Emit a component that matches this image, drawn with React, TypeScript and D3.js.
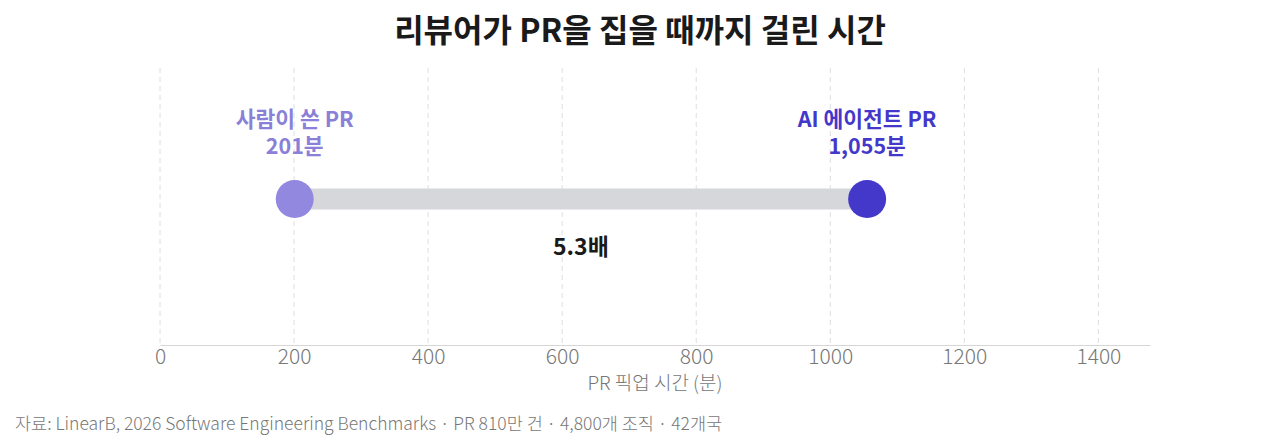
import { useEffect, useRef } from "react";
import * as d3 from "d3";

// data
const groups = ["사람이 쓴 PR", "AI 에이전트 PR"];
const pickupMinutes = [201, 1055];
const groupColors = ["#9288e0", "#4338ca"];
const labelColors = ["#8a80d8", "#4338ca"];
const xTicks = [0, 200, 400, 600, 800, 1000, 1200, 1400];
const ratioLabel = "5.3배";

const FONT = "'Noto Sans CJK KR', 'Noto Sans', sans-serif";

export default function App() {
  const ref = useRef<SVGSVGElement>(null);

  useEffect(() => {
    if (!ref.current) return;
    const svg = d3.select(ref.current);
    svg.selectAll("*").remove();

    const width = 1280;
    const height = 443;
    const margin = { left: 160, right: 130, top: 68, bottom: 98 };
    const plotBottom = height - margin.bottom;
    const rowY = 199;

    const x = d3
      .scaleLinear()
      .domain([0, d3.max(pickupMinutes)! * 1.4])
      .range([margin.left, width - margin.right]);

    // title
    svg
      .append("text")
      .attr("x", 640)
      .attr("y", 42)
      .attr("text-anchor", "middle")
      .style("font-family", FONT)
      .style("font-size", "32px")
      .style("font-weight", 700)
      .style("fill", "#1a1a1a")
      .text("리뷰어가 PR을 집을 때까지 걸린 시간");

    // grid
    svg
      .append("g")
      .selectAll("line")
      .data(xTicks)
      .join("line")
      .attr("x1", (d) => x(d))
      .attr("x2", (d) => x(d))
      .attr("y1", margin.top)
      .attr("y2", plotBottom)
      .attr("stroke", "#dedede")
      .attr("stroke-dasharray", "5,4");

    // axis
    const axis = svg
      .append("g")
      .attr("transform", `translate(0,${plotBottom})`)
      .call(d3.axisBottom(x).tickValues(xTicks).tickSize(0).tickPadding(4).tickFormat((d) => String(d)));
    axis.select(".domain").attr("stroke", "#d6d6d6");
    axis
      .selectAll("text")
      .style("font-family", FONT)
      .style("font-size", "21px")
      .style("font-weight", 300)
      .style("fill", "#777");

    svg
      .append("text")
      .attr("x", (margin.left + width - margin.right) / 2)
      .attr("y", 390)
      .attr("text-anchor", "middle")
      .style("font-family", FONT)
      .style("font-size", "19px")
      .style("font-weight", 300)
      .style("fill", "#777")
      .text("PR 픽업 시간 (분)");

    // connector
    svg
      .append("line")
      .attr("x1", x(pickupMinutes[0]))
      .attr("x2", x(pickupMinutes[1]))
      .attr("y1", rowY)
      .attr("y2", rowY)
      .attr("stroke", "#d6d7db")
      .attr("stroke-width", 21);

    // dots
    svg
      .append("g")
      .selectAll("circle")
      .data(pickupMinutes)
      .join("circle")
      .attr("cx", (d) => x(d))
      .attr("cy", rowY)
      .attr("r", 19)
      .attr("fill", (_, i) => groupColors[i]);

    // labels
    const labelG = svg.append("g");
    pickupMinutes.forEach((d, i) => {
      const lines = [groups[i], `${d3.format(",")(d)}분`];
      lines.forEach((t, j) => {
        labelG
          .append("text")
          .attr("x", x(d))
          .attr("y", 127 + j * 27)
          .attr("text-anchor", "middle")
          .style("font-family", FONT)
          .style("font-size", "21.5px")
          .style("font-weight", 700)
          .style("fill", labelColors[i])
          .text(t);
      });
    });

    // ratio
    svg
      .append("text")
      .attr("x", x((pickupMinutes[0] + pickupMinutes[1]) / 2))
      .attr("y", 255)
      .attr("text-anchor", "middle")
      .style("font-family", FONT)
      .style("font-size", "23px")
      .style("font-weight", 700)
      .style("fill", "#1a1a1a")
      .text(ratioLabel);

    // source
    svg
      .append("text")
      .attr("x", 15)
      .attr("y", 430)
      .style("font-family", FONT)
      .style("font-size", "17.5px")
      .style("font-weight", 300)
      .style("fill", "#777")
      .text("자료: LinearB, 2026 Software Engineering Benchmarks · PR 810만 건 · 4,800개 조직 · 42개국");
  }, []);

  return (
    <svg
      ref={ref}
      width={1280}
      height={443}
      style={{ position: "absolute", left: 0, top: 0, background: "#fff" }}
    />
  );
}
